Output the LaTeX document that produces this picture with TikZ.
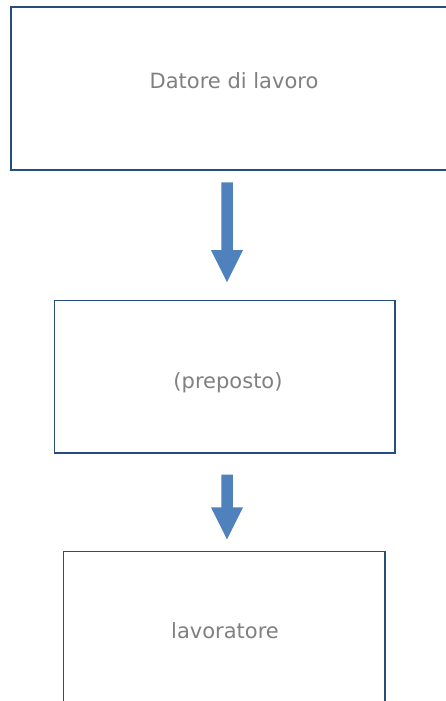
\documentclass[tikz,border=0pt]{standalone}
\usepackage{fontspec}
\setmainfont{DejaVu Sans}
\usetikzlibrary{calc}
\definecolor{boxline}{HTML}{254E7F}
\definecolor{arrowfill}{HTML}{4F81BD}
\definecolor{txt}{HTML}{808080}
\tikzset{
  box/.style={draw=boxline, line width=1.3pt, rectangle, inner sep=0pt},
  lbl/.style={text=txt, font=\fontsize{21pt}{25pt}\selectfont, inner sep=0pt, anchor=base},
}
\newcommand{\blockarr}[2]{%
  \fill[arrowfill] let \p1=(#1), \p2=(#2) in
    (\x1-5.75pt,\y1) -- (\x1+5.75pt,\y1) -- (\x1+5.75pt,\y2+32pt) -- (\x1+16pt,\y2+32pt)
    -- (\x1,\y2) -- (\x1-16pt,\y2+32pt) -- (\x1-5.75pt,\y2+32pt) -- cycle;}
\begin{document}
\begin{tikzpicture}[x=1pt,y=-1pt]
\useasboundingbox (0,0) rectangle (446,701);
\clip (0,0) rectangle (446,701);
\fill[white] (0,0) rectangle (446,701);
\node[box, minimum width=446pt, minimum height=163pt] (b1) at (234,88.5) {};
\node[box, minimum width=340.7pt, minimum height=152.7pt] (b2) at (224.65,376.65) {};
\node[box, minimum width=321.3pt, minimum height=200pt] (b3) at (224.35,651.3) {};
\node[lbl] (t1) at (234,88.3) {Datore di lavoro};
\node[lbl] (t2) at (228,388) {(preposto)};
\node[lbl] (t3) at (225,638.3) {lavoratore};
\coordinate (ax) at (227,0);
\blockarr{$(b1.south -| ax)+(0,11.7)$}{$(b2.north -| ax)+(0,-17.6)$}
\blockarr{$(b2.south -| ax)+(0,21)$}{$(b3.north -| ax)+(0,-11.3)$}
\end{tikzpicture}
\end{document}
